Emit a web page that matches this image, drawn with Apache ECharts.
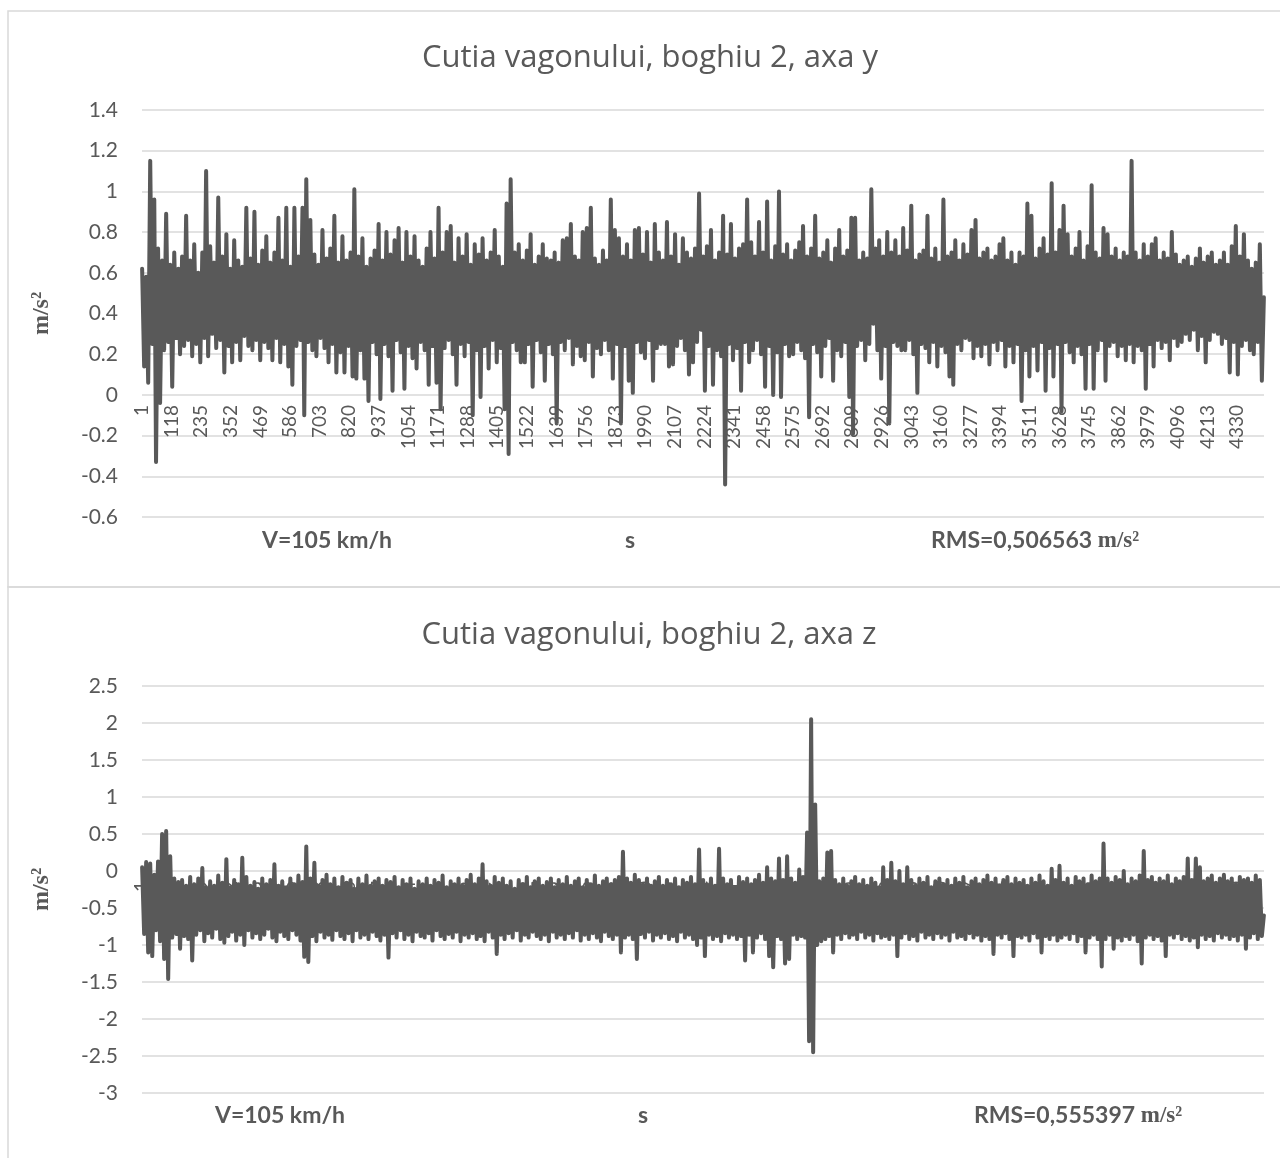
<!DOCTYPE html>
<html>
<head>
<meta charset="utf-8">
<script src="https://cdn.jsdelivr.net/npm/echarts@6/dist/echarts.min.js"></script>
<style>
  html, body { margin: 0; padding: 0; background: #fff; }
  #chart { width: 1280px; height: 1158px; }
</style>
</head>
<body>
<div id="chart"></div>
<script>
// sample numbers on the category axis (1 .. 4436)
const sampleCount = 4436;
const categories = Array.from({ length: sampleCount }, (_, i) => String(i + 1));

// axa y, every ~8 samples (alternating crest / trough)
const yValues = [
  0.62, 0.14, 0.58, 0.06, 1.15, 0.25, 0.96, -0.33, 0.72, -0.04, 0.66, 0.22, 0.89, 0.26, 0.64, 0.04, 0.70, 0.28, 0.62, 0.20,
  0.68, 0.24, 0.88, 0.27, 0.66, 0.19, 0.74, 0.25, 0.60, 0.16, 0.70, 0.28, 1.10, 0.19, 0.73, 0.30, 0.65, 0.23, 0.97, 0.27,
  0.68, 0.11, 0.79, 0.24, 0.62, 0.16, 0.76, 0.26, 0.66, 0.17, 0.63, 0.29, 0.92, 0.24, 0.67, 0.22, 0.90, 0.27, 0.64, 0.17,
  0.71, 0.26, 0.78, 0.23, 0.65, 0.17, 0.70, 0.28, 0.87, 0.16, 0.66, 0.25, 0.92, 0.14, 0.63, 0.05, 0.92, 0.24, 0.68, 0.27,
  0.92, -0.10, 1.06, 0.26, 0.86, 0.22, 0.69, 0.19, 0.64, 0.28, 0.81, 0.23, 0.67, 0.16, 0.72, 0.25, 0.88, 0.11, 0.65, 0.21,
  0.78, 0.11, 0.66, 0.24, 0.70, 0.09, 1.01, 0.08, 0.68, 0.22, 0.77, 0.08, 0.63, -0.03, 0.67, 0.26, 0.71, 0.20, 0.84, -0.02,
  0.66, 0.25, 0.80, 0.19, 0.69, 0.02, 0.76, 0.27, 0.82, 0.21, 0.65, 0.03, 0.80, 0.24, 0.68, 0.18, 0.78, 0.13, 0.66, 0.26,
  0.63, 0.22, 0.72, 0.05, 0.80, 0.24, 0.67, 0.06, 0.92, -0.07, 0.70, 0.23, 0.80, 0.27, 0.83, 0.20, 0.65, 0.05, 0.77, 0.25,
  0.68, 0.19, 0.79, 0.26, 0.64, -0.10, 0.74, 0.22, 0.69, -0.01, 0.77, 0.24, 0.66, 0.13, 0.70, 0.27, 0.81, 0.16, 0.68, 0.23,
  0.63, -0.07, 0.94, -0.29, 1.06, 0.26, 0.70, 0.22, 0.74, 0.16, 0.66, 0.16, 0.71, 0.25, 0.79, 0.04, 0.64, 0.27, 0.68, 0.21,
  0.74, 0.07, 0.67, 0.25, 0.66, 0.20, 0.70, -0.14, 0.65, 0.26, 0.76, 0.22, 0.77, 0.28, 0.84, 0.15, 0.68, 0.24, 0.66, 0.19,
  0.80, 0.17, 0.82, 0.26, 0.92, 0.09, 0.67, 0.23, 0.64, 0.20, 0.71, 0.27, 0.66, 0.22, 0.96, 0.08, 0.81, 0.25, 0.77, -0.14,
  0.68, 0.24, 0.74, 0.07, 0.66, 0.01, 0.81, 0.26, 0.82, 0.21, 0.69, 0.18, 0.80, 0.27, 0.65, 0.07, 0.84, 0.23, 0.70, 0.25,
  0.66, 0.25, 0.85, 0.14, 0.68, 0.15, 0.79, 0.24, 0.64, 0.28, 0.77, 0.22, 0.70, 0.10, 0.67, 0.16, 0.72, 0.26, 0.99, 0.32,
  0.68, 0.02, 0.73, 0.24, 0.81, 0.05, 0.66, 0.22, 0.70, 0.19, 0.88, -0.44, 0.69, 0.25, 0.84, 0.17, 0.67, 0.23, 0.72, 0.02,
  0.74, 0.26, 0.96, 0.16, 0.75, 0.22, 0.68, 0.27, 0.85, 0.20, 0.70, 0.04, 0.95, 0.24, 0.66, 0.00, 0.73, 0.21, 1.00, -0.01,
  0.69, 0.25, 0.74, 0.19, 0.66, 0.20, 0.71, 0.26, 0.75, 0.22, 0.83, 0.18, 0.68, -0.11, 0.72, 0.25, 0.88, 0.21, 0.67, 0.09,
  0.70, 0.24, 0.76, 0.28, 0.65, 0.07, 0.72, 0.22, 0.81, 0.19, 0.68, 0.26, 0.71, -0.01, 0.87, -0.19, 0.87, 0.24, 0.66, 0.27,
  0.70, 0.17, 0.67, 0.25, 1.01, 0.35, 0.72, 0.22, 0.76, 0.08, 0.68, 0.24, 0.80, -0.14, 0.70, 0.26, 0.76, 0.24, 0.68, 0.22,
  0.82, 0.22, 0.71, 0.27, 0.93, 0.20, 0.66, 0.01, 0.69, 0.25, 0.71, 0.23, 0.88, 0.16, 0.67, 0.26, 0.72, 0.14, 0.65, 0.24,
  0.96, 0.21, 0.68, 0.09, 0.70, 0.05, 0.76, 0.25, 0.66, 0.22, 0.74, 0.28, 0.69, 0.27, 0.81, 0.18, 0.86, 0.24, 0.67, 0.19,
  0.70, 0.25, 0.72, 0.15, 0.66, 0.26, 0.68, 0.22, 0.74, 0.27, 0.77, 0.14, 0.66, 0.24, 0.70, 0.16, 0.64, 0.25, 0.70, -0.03,
  0.68, 0.22, 0.94, 0.09, 0.88, 0.24, 0.67, 0.12, 0.72, 0.26, 0.77, 0.02, 0.69, 0.23, 1.04, 0.09, 0.70, 0.25, 0.81, -0.08,
  0.93, 0.26, 0.79, 0.21, 0.68, 0.16, 0.72, 0.24, 0.80, 0.20, 0.66, 0.03, 0.73, 0.25, 1.03, 0.03, 0.70, 0.22, 0.67, 0.27,
  0.82, 0.07, 0.79, 0.24, 0.68, 0.26, 0.72, 0.19, 0.66, 0.24, 0.70, 0.17, 0.68, 0.25, 1.15, 0.16, 0.70, 0.24, 0.66, 0.22,
  0.74, 0.03, 0.68, 0.25, 0.74, 0.14, 0.77, 0.27, 0.66, 0.23, 0.70, 0.26, 0.67, 0.17, 0.80, 0.28, 0.69, 0.24, 0.64, 0.26,
  0.66, 0.30, 0.68, 0.27, 0.63, 0.32, 0.67, 0.22, 0.72, 0.29, 0.65, 0.16, 0.68, 0.27, 0.70, 0.31, 0.64, 0.30, 0.66, 0.25,
  0.70, 0.28, 0.64, 0.11, 0.73, 0.26, 0.83, 0.10, 0.68, 0.24, 0.79, 0.27, 0.66, 0.22, 0.62, 0.20, 0.65, 0.26, 0.74, 0.07,
  0.48
];

// axa z, every ~8 samples (alternating crest / trough)
const zValues = [
  0.05, -0.85, 0.12, -1.10, 0.10, -1.15, -0.05, -0.80, 0.13, -0.95, 0.50, -1.19, 0.54, -1.46, 0.20, -0.90, -0.10, -0.85, -0.15, -1.05,
  -0.12, -0.88, -0.20, -0.92, -0.08, -1.21, -0.18, -0.86, -0.10, -0.80, 0.04, -0.95, -0.22, -0.84, -0.14, -0.90, -0.20, -0.78, -0.06, -0.92,
  -0.16, -0.97, 0.16, -0.88, -0.22, -0.82, -0.12, -0.94, -0.18, -0.86, 0.18, -1.00, -0.08, -0.80, -0.20, -0.90, -0.15, -0.84, -0.24, -0.92,
  -0.10, -0.86, -0.18, -0.78, -0.12, -0.90, 0.09, -0.95, -0.20, -0.82, -0.14, -0.88, -0.22, -0.92, -0.10, -0.80, -0.18, -0.86, -0.06, -0.94,
  -0.15, -1.16, 0.33, -1.23, -0.10, -0.88, 0.11, -0.95, -0.20, -0.82, -0.12, -0.90, -0.05, -0.86, -0.18, -0.93, -0.10, -0.80, -0.22, -0.88,
  -0.08, -0.92, -0.16, -0.84, -0.12, -0.95, -0.24, -0.80, -0.10, -0.90, -0.18, -0.86, -0.06, -0.92, -0.20, -0.82, -0.14, -0.88, -0.10, -0.94,
  -0.20, -0.86, -0.12, -1.17, -0.15, -0.84, -0.08, -0.90, -0.22, -0.80, -0.12, -0.92, -0.18, -0.86, -0.10, -0.95, -0.24, -0.82, -0.14, -0.88,
  -0.18, -0.90, -0.10, -0.84, -0.20, -0.94, -0.12, -0.80, -0.16, -0.88, -0.06, -0.92, -0.22, -0.85, -0.14, -0.90, -0.18, -0.82, -0.10, -0.95,
  -0.20, -0.86, -0.12, -0.90, -0.05, -0.84, -0.18, -0.92, -0.10, -0.88, 0.09, -0.95, -0.14, -0.82, -0.20, -0.90, -0.08, -1.12, -0.16, -0.86,
  -0.10, -0.92, -0.20, -0.84, -0.14, -0.90, -0.24, -0.80, -0.12, -0.94, -0.18, -0.86, -0.08, -0.90, -0.22, -0.82, -0.14, -0.88, -0.10, -0.92,
  -0.20, -0.86, -0.15, -0.95, -0.10, -0.82, -0.22, -0.90, -0.12, -0.86, -0.18, -0.92, -0.08, -0.84, -0.20, -0.90, -0.14, -0.80, -0.10, -0.94,
  -0.22, -0.86, -0.12, -0.92, -0.18, -0.84, -0.06, -0.90, -0.20, -0.95, -0.14, -0.82, -0.10, -0.88, -0.18, -0.92, -0.12, -0.86, -0.08, -1.10,
  0.26, -0.90, -0.10, -0.86, -0.16, -0.92, -0.05, -1.19, -0.12, -0.85, -0.18, -0.90, -0.10, -0.82, -0.20, -0.94, -0.14, -0.86, -0.08, -0.90,
  -0.20, -0.84, -0.12, -0.92, -0.18, -0.88, -0.10, -0.95, -0.22, -0.82, -0.12, -0.90, -0.16, -0.86, -0.08, -0.92, -0.18, -1.00, 0.29, -0.90,
  -0.12, -1.15, -0.18, -0.86, -0.10, -0.92, -0.20, -0.88, 0.30, -0.95, -0.10, -0.84, -0.18, -0.90, -0.12, -0.86, -0.22, -0.92, -0.08, -0.88,
  -0.15, -1.21, -0.10, -0.86, -0.18, -1.10, -0.12, -0.90, -0.05, -0.84, -0.16, -0.92, 0.05, -1.15, -0.10, -1.30, -0.14, -0.88, 0.17, -0.92,
  -0.12, -1.25, 0.20, -1.19, -0.10, -0.86, -0.16, -0.92, 0.02, -0.88, -0.08, -0.90, 0.52, -2.30, 2.05, -2.45, 0.90, -1.00, -0.14, -0.95,
  -0.10, -0.92, 0.25, -0.88, 0.27, -1.10, -0.12, -0.86, -0.18, -0.92, -0.10, -0.84, -0.20, -0.90, -0.14, -0.86, -0.08, -0.92, -0.18, -0.82,
  -0.12, -0.90, -0.20, -0.86, -0.10, -0.94, -0.16, -0.84, -0.22, -0.90, 0.05, -0.88, -0.12, -0.92, 0.11, -0.86, -0.14, -1.15, 0.00, -0.90,
  -0.18, -0.84, 0.05, -0.92, -0.12, -0.88, -0.20, -0.94, -0.10, -0.82, -0.16, -0.90, -0.08, -0.86, -0.22, -0.92, -0.14, -0.84, -0.10, -0.90,
  -0.18, -0.86, -0.12, -0.94, -0.20, -0.82, -0.10, -0.90, -0.16, -0.88, -0.08, -0.92, -0.22, -0.84, -0.14, -0.90, -0.10, -0.86, -0.18, -0.94,
  -0.12, -0.88, -0.06, -0.92, -0.16, -1.12, -0.10, -0.86, -0.20, -0.90, -0.12, -0.84, -0.08, -0.92, -0.18, -1.15, -0.10, -0.88, -0.16, -0.90,
  -0.12, -0.86, -0.20, -0.94, -0.10, -0.84, -0.16, -0.90, -0.06, -1.10, -0.14, -0.88, -0.20, -0.92, 0.03, -0.86, -0.12, -0.94, 0.07, -0.90,
  -0.16, -0.86, -0.10, -0.92, -0.20, -0.84, -0.08, -0.95, -0.14, -0.88, -0.10, -1.10, -0.18, -0.90, -0.06, -0.86, -0.14, -0.92, -0.10, -1.29,
  0.37, -0.92, -0.10, -0.86, -0.16, -1.05, -0.08, -0.90, -0.12, -0.94, 0.00, -0.88, -0.18, -0.92, -0.10, -0.86, -0.14, -0.95, -0.06, -1.25,
  0.27, -0.90, -0.12, -0.86, -0.08, -0.92, -0.16, -0.88, -0.10, -0.94, -0.14, -1.15, -0.06, -0.86, -0.18, -0.90, -0.10, -0.84, -0.14, -0.92,
  -0.08, -0.88, 0.17, -0.94, -0.12, -0.90, 0.17, -1.03, 0.05, -0.86, -0.14, -0.92, -0.10, -0.88, -0.06, -0.94, -0.16, -0.84, -0.10, -0.90,
  -0.05, -0.86, -0.14, -0.92, -0.10, -0.88, -0.18, -0.94, -0.08, -0.86, -0.12, -1.05, -0.10, -0.90, -0.16, -0.84, -0.06, -0.92, -0.12, -0.88,
  -0.60
];

const titleY = 'Cutia vagonului, boghiu 2, axa y';
const titleZ = 'Cutia vagonului, boghiu 2, axa z';
const speedText = 'V=105 km/h';
const rmsY = 'RMS=0,506563 ';
const rmsZ = 'RMS=0,555397 ';

const sans = 'Lato, "Open Sans", sans-serif';
const titleFont = '"Open Sans", Lato, sans-serif';
const serif = '"Liberation Serif", "DejaVu Serif", serif';
const ink = '#595959';
const grey = '#d9d9d9';

// the readings are evenly spread over the record
function toPoints(values) {
  return values.map((v, i) => [Math.round(i * (sampleCount - 1) / (values.length - 1)), v]);
}

function xAxisFor(gi, shift) {
  return {
    type: 'category', gridIndex: gi, data: categories, boundaryGap: true,
    offset: shift,
    axisLine: { show: false, onZero: false },
    axisTick: { show: false },
    axisLabel: { interval: 116, rotate: 90, margin: 10, fontSize: 19, color: ink, fontFamily: sans },
    splitLine: { show: false }
  };
}
function yAxisFor(gi, min, max, step) {
  return {
    type: 'value', gridIndex: gi, min: min, max: max, interval: step,
    name: 'm/s²', nameLocation: 'middle', nameGap: 88, nameRotate: 90,
    nameTextStyle: { fontFamily: serif, fontWeight: 'bold', fontSize: 24, color: ink },
    axisLine: { show: false }, axisTick: { show: false },
    axisLabel: { margin: 24, fontSize: 21, color: ink, fontFamily: sans },
    splitLine: { lineStyle: { color: grey, width: 1.5 } }
  };
}
function lineFor(gi, values) {
  return {
    type: 'line', xAxisIndex: gi, yAxisIndex: gi,
    data: toPoints(values),
    showSymbol: false, symbol: 'none', sampling: null,
    lineStyle: { color: ink, width: 4, cap: 'round', join: 'round' },
    emphasis: { disabled: true }, z: 3
  };
}
function label(x, y, text, size, font, weight) {
  return {
    type: 'text', x: x, y: y, silent: true,
    style: { text: text, fontSize: size, fontFamily: font, fontWeight: weight, fill: ink, align: 'center', verticalAlign: 'middle' }
  };
}
function rmsLabel(x, y, text) {
  return {
    type: 'text', x: x, y: y, silent: true,
    style: {
      text: '{a|' + text + '}{b|m/s²}', align: 'center', verticalAlign: 'middle',
      rich: {
        a: { fontSize: 23, fontFamily: sans, fontWeight: 'bold', fill: ink },
        b: { fontSize: 23, fontFamily: serif, fontWeight: 'bold', fill: ink }
      }
    }
  };
}

const chart = echarts.init(document.getElementById('chart'), null, { renderer: 'canvas' });
chart.setOption({
  animation: false,
  backgroundColor: '#fff',
  grid: [
    { left: 142, right: 16, top: 110, height: 407 },
    { left: 142, right: 16, top: 686, height: 407 }
  ],
  // category axes sit on the zero line of each panel
  xAxis: [xAxisFor(0, -122), xAxisFor(1, -222)],
  yAxis: [yAxisFor(0, -0.6, 1.4, 0.2), yAxisFor(1, -3, 2.5, 0.5)],
  series: [lineFor(0, yValues), lineFor(1, zValues)],
  graphic: [
    { type: 'rect', silent: true, shape: { x: 8, y: 11, width: 1300, height: 576 }, style: { fill: 'none', stroke: grey, lineWidth: 1.5 } },
    { type: 'rect', silent: true, shape: { x: 8, y: 587, width: 1300, height: 620 }, style: { fill: 'none', stroke: grey, lineWidth: 1.5 } },
    label(650, 58, titleY, 31, titleFont, 'normal'),
    label(649, 635, titleZ, 31, titleFont, 'normal'),
    label(327, 541, speedText, 23, sans, 'bold'),
    label(630, 541, 's', 23, sans, 'bold'),
    rmsLabel(1035, 541, rmsY),
    label(280, 1116, speedText, 23, sans, 'bold'),
    label(643, 1116, 's', 23, sans, 'bold'),
    rmsLabel(1078, 1116, rmsZ)
  ]
});
</script>
</body>
</html>
